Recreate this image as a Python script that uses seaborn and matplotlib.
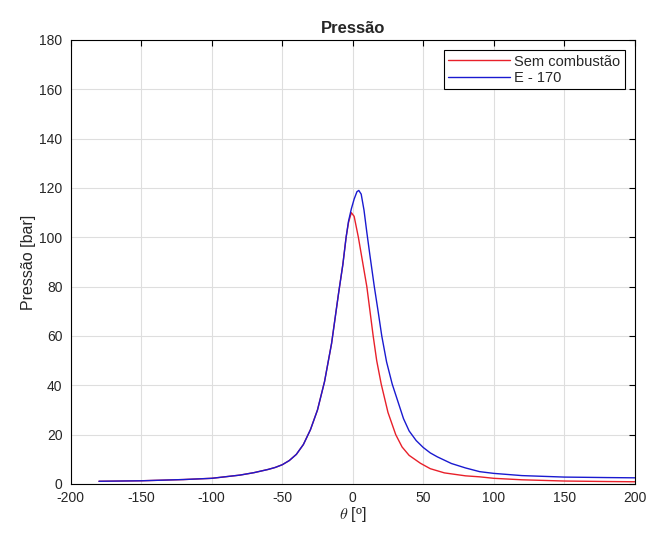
import matplotlib
matplotlib.use("Agg")
import matplotlib.pyplot as plt
import seaborn as sns

# pressure vs crank angle
theta_motored = [-180, -150, -120, -100, -80, -70, -60, -55, -50, -45, -40, -35, -30, -25,
                 -20, -15, -10, -7, -4.7, -3, -1, 1, 4, 7, 10, 14.5, 17, 20.2, 25, 30.5,
                 35, 40, 48, 55, 65, 80, 90, 100, 120, 150, 180, 200]
p_motored = [1.1, 1.3, 1.8, 2.3, 3.6, 4.6, 5.9, 6.7, 7.8, 9.5, 12, 16, 22, 30,
             41.5, 57, 77.5, 89, 100, 106, 110, 108.5, 100, 90, 80, 60, 50, 40.5, 29, 20,
             15, 11.6, 8.4, 6.2, 4.5, 3.3, 2.9, 2.3, 1.7, 1.2, 1.0, 0.9]

theta_e170 = [-180, -150, -120, -100, -80, -70, -60, -55, -50, -45, -40, -35, -30, -25,
              -20, -15, -10, -7, -4.7, -3, -1, 1, 3, 4.3, 6, 8, 10, 12, 15.3, 18, 20.6,
              24, 28, 32, 36, 40, 45, 50, 55, 60, 70, 80, 90, 100, 120, 150, 180, 200]
p_e170 = [1.1, 1.3, 1.8, 2.3, 3.6, 4.6, 5.9, 6.7, 7.8, 9.5, 12, 16, 22, 30,
          41.5, 57, 77.5, 89, 100, 106.5, 111.5, 115.5, 118.5, 119, 117.5, 111, 102,
          93.5, 80, 70, 60, 49.5, 40.5, 33.5, 26.5, 21.5, 17.6, 14.8, 12.6, 11, 8.3,
          6.5, 5, 4.3, 3.4, 2.8, 2.6, 2.5]

labels = ["Sem combustão", "E - 170"]
xticks = list(range(-200, 201, 50))
yticks = list(range(0, 181, 20))

sns.set_style("whitegrid")
plt.rcParams["font.family"] = ["Liberation Sans", "DejaVu Sans"]
plt.rcParams["mathtext.fontset"] = "cm"
plt.rcParams["axes.unicode_minus"] = False

fig = plt.figure(figsize=(6.49, 5.38), dpi=100)
ax = fig.add_axes([0.109, 0.1004, 0.869, 0.8253])

sns.lineplot(x=theta_motored, y=p_motored, sort=False, color="#e8202a", lw=1.0,
             label=labels[0], ax=ax)
sns.lineplot(x=theta_e170, y=p_e170, sort=False, color="#1a1ad0", lw=1.0,
             label=labels[1], ax=ax)

ax.set_xlim(-200, 200)
ax.set_ylim(0, 180)
ax.set_xticks(xticks)
ax.set_yticks(yticks)
ax.grid(True, color="#dedede", lw=0.8)
for s in ax.spines.values():
    s.set_color("black")
    s.set_linewidth(0.8)
ax.tick_params(direction="in", top=True, right=True, length=4, width=0.8,
               labelsize=10, colors="black", labelcolor="#262626")
ax.tick_params(axis="x", pad=5)
ax.tick_params(axis="y", pad=6)

ax.set_title("Pressão", fontsize=12, fontweight="bold", pad=5)
ax.set_ylabel("Pressão [bar]", fontsize=11.5, labelpad=2)
ax.set_xlabel(r"$\theta$ [º]", fontsize=11.5, labelpad=0)

leg = ax.legend(loc="upper right", fontsize=10.5, frameon=True, fancybox=False,
                edgecolor="black", framealpha=1, borderpad=0.3, labelspacing=0.15,
                handlelength=4.2, handletextpad=0.3, borderaxespad=0.7)
leg.get_frame().set_linewidth(0.8)

fig.savefig("out.png", dpi=100)
